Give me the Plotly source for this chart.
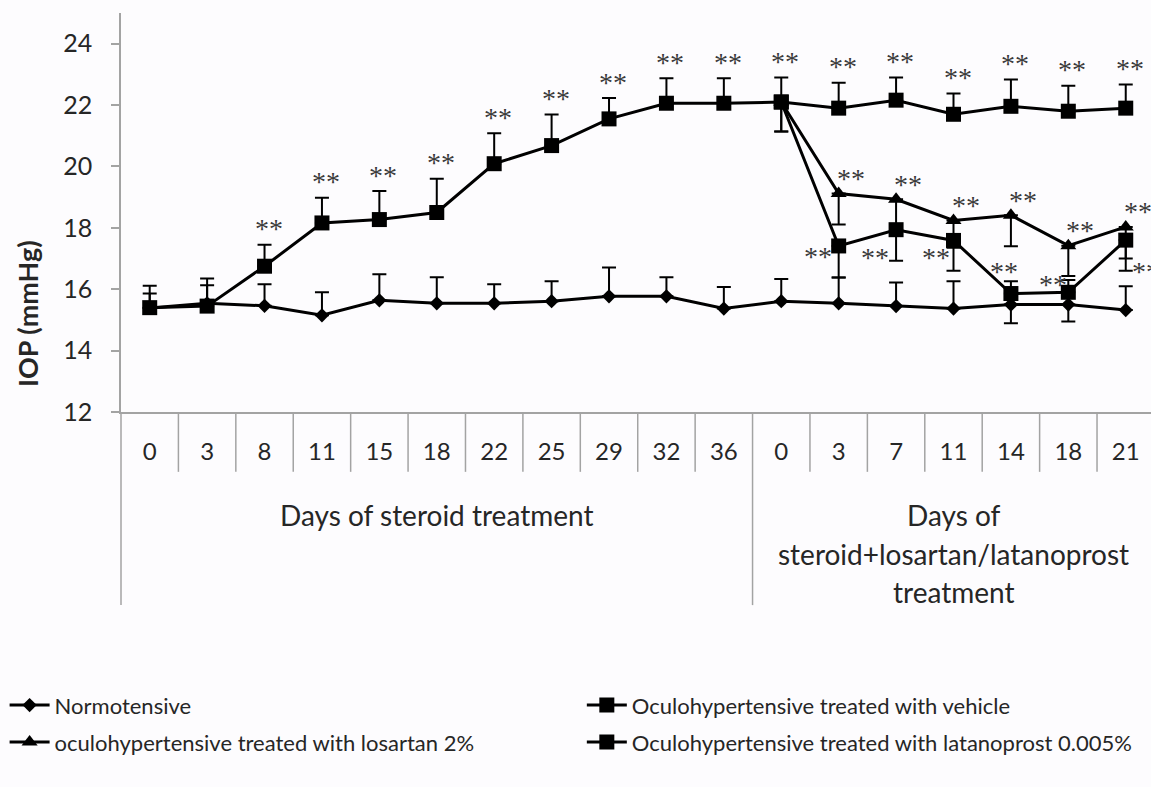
import plotly.graph_objects as go

# ---------------- data ----------------
days = ["0", "3", "8", "11", "15", "18", "22", "25", "29", "32", "36",
        "0", "3", "7", "11", "14", "18", "21"]
groups = ["Days of steroid treatment"] * 11 + ["Days of steroid+losartan/latanoprost treatment"] * 7
group_lines = {
    "Days of steroid treatment": ["Days of steroid treatment"],
    "Days of steroid+losartan/latanoprost treatment": ["Days of", "steroid+losartan/latanoprost", "treatment"],
}

normotensive = [15.39, 15.54, 15.46, 15.15, 15.64, 15.54, 15.54, 15.61, 15.77, 15.77, 15.37,
                15.61, 15.54, 15.45, 15.37, 15.50, 15.50, 15.32]
normotensive_err = [0.47, 0.59, 0.70, 0.75, 0.85, 0.85, 0.62, 0.65, 0.94, 0.62, 0.70,
                    0.72, 0.84, 0.77, 0.89, 0.76, 0.80, 0.78]

vehicle = [15.40, 15.45, 16.75, 18.16, 18.27, 18.50, 20.09, 20.68, 21.55, 22.06, 22.06,
           22.10, 21.90, 22.16, 21.70, 21.96, 21.80, 21.90]
vehicle_err = [0.71, 0.90, 0.70, 0.82, 0.93, 1.10, 0.99, 1.01, 0.68, 0.81, 0.81,
               0.80, 0.83, 0.74, 0.68, 0.87, 0.83, 0.77]

losartan = [None] * 11 + [22.10, 19.12, 18.93, 18.24, 18.41, 17.42, 18.03]
losartan_err_minus = [0] * 11 + [0.96, 1.01, 1.00, 0.89, 1.01, 0.99, 1.03]

latanoprost = [None] * 11 + [22.10, 17.41, 17.94, 17.59, 15.86, 15.90, 17.60]
latanoprost_err_minus = [0] * 11 + [0.96, 1.03, 1.01, 0.99, 0.97, 0.95, 1.00]

# points marked "**" (indices)
sig_vehicle = list(range(2, 18))
sig_losartan = list(range(12, 18))
sig_latanoprost = list(range(12, 18))

names = ["Normotensive",
         "Oculohypertensive treated with vehicle",
         "oculohypertensive treated with losartan 2%",
         "Oculohypertensive treated with latanoprost 0.005%"]

# ---------------- style ----------------
FONT = "Lato, 'Open Sans', sans-serif"
TXT = "#262626"
GRID = "#a3a3a3"
BG = "#fdfcfe"

x_idx = list(range(len(days)))

fig = go.Figure()


def add_series(y, name, symbol, size, legend, err_plus=None, err_minus=None):
    err = dict(type="data", symmetric=False,
               array=err_plus if err_plus is not None else [0] * len(y),
               arrayminus=err_minus if err_minus is not None else [0] * len(y),
               color="black", thickness=2, width=7)
    fig.add_trace(go.Scatter(
        x=x_idx, y=y, name=name, mode="lines+markers",
        line=dict(color="black", width=3),
        marker=dict(symbol=symbol, size=size, color="black"),
        error_y=err, connectgaps=False, legend=legend,
    ))


add_series(normotensive, names[0], "diamond", 11, "legend", err_plus=normotensive_err)
add_series(vehicle, names[1], "square", 15, "legend2", err_plus=vehicle_err)
add_series(losartan, names[2], "triangle-up", 14, "legend3", err_minus=losartan_err_minus)
add_series(latanoprost, names[3], "square", 15, "legend4", err_minus=latanoprost_err_minus)

# ---------------- significance stars ----------------
STAR_FONT = dict(family="'Liberation Serif', serif", size=28, color="#3a3a3a")
for i in sig_vehicle:
    fig.add_annotation(x=i, y=vehicle[i] + vehicle_err[i], text="**", showarrow=False,
                       xshift=4, yshift=16, yanchor="middle", font=STAR_FONT)
for i in sig_losartan:
    fig.add_annotation(x=i, y=losartan[i], text="**", showarrow=False,
                       xshift=12, yshift=15, yanchor="middle", font=STAR_FONT)
lat_offsets = [(-21, -11), (-21, -28), (-18, -17), (-7, 22), (-15, 8), (20, -31)]
for k, i in enumerate(sig_latanoprost):
    dx, dy = lat_offsets[k]
    fig.add_annotation(x=i, y=latanoprost[i], text="**", showarrow=False,
                       xshift=dx, yshift=dy, yanchor="middle", font=STAR_FONT)

# ---------------- category separators and group labels ----------------
group_names = []
for g in groups:
    if g not in group_names:
        group_names.append(g)

boundaries_outer = []
for i in range(1, len(groups)):
    if groups[i] != groups[i - 1]:
        boundaries_outer.append(i - 0.5)

for i in range(len(days) - 1):
    b = i + 0.5
    if b in boundaries_outer:
        continue
    fig.add_shape(type="line", xref="x", yref="paper", x0=b, x1=b, y0=0, y1=-0.150,
                  line=dict(color=GRID, width=1.5))
for b in boundaries_outer:
    fig.add_shape(type="line", xref="x", yref="paper", x0=b, x1=b, y0=0, y1=-0.484,
                  line=dict(color=GRID, width=1.5))
fig.add_shape(type="line", xref="paper", yref="paper", x0=0, x1=0, y0=0, y1=-0.484,
              line=dict(color=GRID, width=1.5))

line_y = [-0.258, -0.355, -0.450]
for g in group_names:
    idx = [i for i, gg in enumerate(groups) if gg == g]
    cx = sum(idx) / len(idx)
    for k, txt in enumerate(group_lines[g]):
        fig.add_annotation(x=cx, xref="x", y=line_y[k], yref="paper", text=txt,
                           showarrow=False, yanchor="middle", xanchor="center",
                           font=dict(family=FONT, size=28, color=TXT))

# y axis title
fig.add_annotation(x=-0.0913, y=0.248, xref="paper", yref="paper", text="<b>IOP (mmHg)</b>",
                   textangle=-90, showarrow=False, xanchor="center", yanchor="middle",
                   font=dict(family=FONT, size=27, color=TXT))

legend_common = dict(orientation="h", xref="container", xanchor="left", yanchor="top",
                     font=dict(family=FONT, size=22, color=TXT),
                     bgcolor="rgba(0,0,0,0)", itemwidth=40)

fig.update_layout(
    width=1151, height=787,
    margin=dict(l=121, r=0, t=13, b=375, autoexpand=False),
    paper_bgcolor=BG, plot_bgcolor=BG,
    font=dict(family=FONT, color=TXT),
    showlegend=True,
    legend=dict(legend_common, x=0.004, y=-0.6825),
    legend2=dict(legend_common, x=0.5055, y=-0.6825),
    legend3=dict(legend_common, x=0.004, y=-0.775),
    legend4=dict(legend_common, x=0.5055, y=-0.775),
)

fig.update_xaxes(range=[-0.5, 17.44], tickmode="array", tickvals=x_idx, ticktext=days,
                 ticks="", showline=True, linecolor=GRID, linewidth=1.5,
                 showgrid=False, zeroline=False, automargin=False,
                 tickfont=dict(family=FONT, size=24, color=TXT), ticklabelstandoff=17)
fig.update_yaxes(range=[12, 25], tickmode="array", tickvals=[12, 14, 16, 18, 20, 22, 24],
                 ticks="outside", ticklen=8, tickwidth=1.5, tickcolor=GRID,
                 showline=True, linecolor=GRID, linewidth=1.5,
                 showgrid=False, zeroline=False, automargin=False,
                 tickfont=dict(family=FONT, size=25, color=TXT), ticklabelstandoff=14)

fig.write_html("out.html", config={"displayModeBar": False},
               post_script="document.body.style.margin='0';document.body.style.overflow='hidden';")
